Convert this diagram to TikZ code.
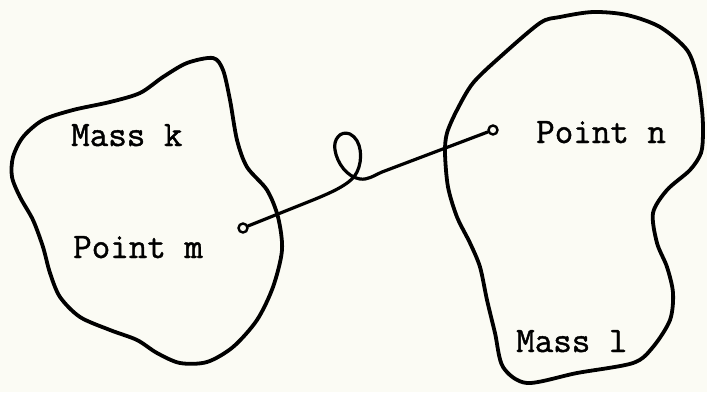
\documentclass[tikz,border=0pt]{standalone}
\usepackage{fontspec}
\usepackage{tikz}
\definecolor{paper}{RGB}{251,251,244}
\newfontfamily\typewriter{Latin Modern Mono}[FakeBold=1.2]

\begin{document}
\begin{tikzpicture}[
    x=1pt, y=-1pt,
    outline/.style={
        line width=3.8pt,
        line join=round
    },
    masstext/.style={
        font=\fontsize{36}{40}\selectfont\typewriter,
        anchor=base west,
        inner sep=0pt
    },
    endpoint/.style={
        circle,
        draw,
        line width=2.4pt,
        fill=paper,
        inner sep=0pt,
        minimum size=9pt
    },
    tie/.style={
        line width=3.2pt,
        line cap=round,
        line join=round
    }
]

\fill[paper] (0,0) rectangle (707,392);
\useasboundingbox (0,0) rectangle (707,392);

\draw[outline] plot[smooth cycle] coordinates {
    (213,58) (187,63) (163,77) (140,93) (110,102) (73,110) (43,120) (23,137)
    (13,157) (12,177) (20,197) (33,220) (43,247) (50,273) (60,297) (80,317)
    (110,330) (137,340) (157,353) (180,363) (207,362) (233,347) (257,320)
    (273,287) (282,250) (278,217) (267,190) (247,167) (237,140) (230,100)
    (223,70)
};

\draw[outline] plot[smooth cycle] coordinates {
    (593,12) (560,17) (540,23) (500,57) (473,83) (457,110) (447,133)
    (445,153) (448,187) (457,217) (470,243) (480,267) (487,300) (495,333)
    (503,367) (527,383) (577,373) (633,363) (653,347) (670,320) (673,293)
    (667,267) (657,243) (653,213) (667,190) (690,170) (701,153) (703,133)
    (702,110) (697,77) (687,50) (660,27) (627,15)
};

\node[masstext] (massk) at (71,146) {Mass k};
\node[masstext] (pointm) at (73,258) {Point m};
\node[masstext] (pointn) at (536,143) {Point n};
\node[masstext] (massl) at (516,352) {Mass l};

\node[endpoint] (m) at (243,228) {};
\node[endpoint] (n) at (493,130) {};

\draw[tie] (m) -- (313,200)
    .. controls (335,191) and (352,183) .. (357,172)
    .. controls (363,160) and (362,140) .. (350,134)
    .. controls (340,130) and (333,140) .. (335,150)
    .. controls (337,163) and (347,177) .. (360,179)
    .. controls (368,180) and (373,176) .. (382,172) -- (n);

\end{tikzpicture}
\end{document}
